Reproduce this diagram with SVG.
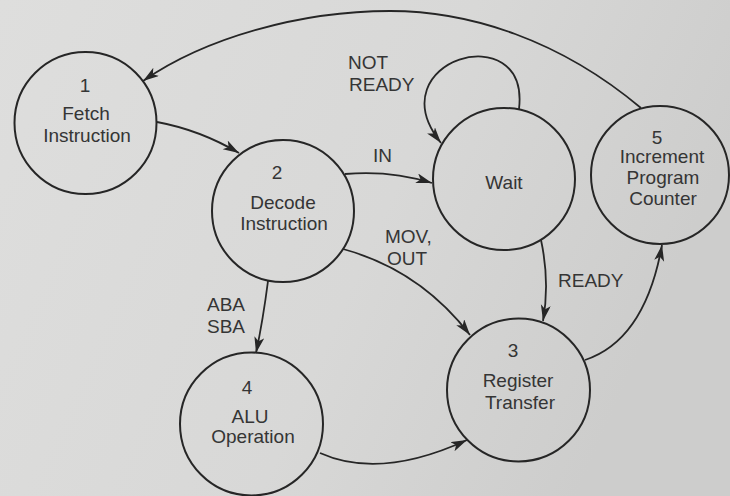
<svg xmlns="http://www.w3.org/2000/svg" width="730" height="496" viewBox="0 0 730 496">
  <defs>
    <linearGradient id="paper" x1="0" y1="0" x2="1" y2="0.3">
      <stop offset="0" stop-color="#dededd"/>
      <stop offset="0.6" stop-color="#d8d8d7"/>
      <stop offset="1" stop-color="#cdcdcc"/>
    </linearGradient>
    <marker id="arrow" markerUnits="userSpaceOnUse" markerWidth="18" markerHeight="12" refX="16" refY="5" orient="auto">
      <path d="M0,0 L16,5 L0,10 L4,5 Z" fill="#262626"/>
    </marker>
    <style>
      .state { fill: none; stroke: #262626; stroke-width: 2; }
      .edge { fill: none; stroke: #262626; stroke-width: 1.8; marker-end: url(#arrow); }
      text { font-family: "Liberation Sans", Arial, sans-serif; font-size: 19px; fill: #353535; }
      .c { text-anchor: middle; }
    </style>
  </defs>

  <rect x="0" y="0" width="730" height="496" fill="url(#paper)"/>

  <!-- transitions -->
  <g id="connectors">
    <!-- 1 -> 2 -->
    <path class="edge" d="M157,122 Q200,130 239,153"/>
    <!-- 2 -> Wait (IN) -->
    <path class="edge" d="M345,174 Q390,170 432,183"/>
    <!-- Wait self-loop (NOT READY) -->
    <path class="edge" d="M519,109 C530,15 375,60 441,143"/>
    <!-- Wait -> 3 (READY) -->
    <path class="edge" d="M541,240 Q550,282 543,321"/>
    <!-- 2 -> 3 (MOV, OUT) -->
    <path class="edge" d="M343,249 Q420,270 470,335"/>
    <!-- 2 -> 4 (ABA, SBA) -->
    <path class="edge" d="M268,281 Q263,320 256,353"/>
    <!-- 4 -> 3 -->
    <path class="edge" d="M320,453 Q380,480 467,440"/>
    <!-- 3 -> 5 -->
    <path class="edge" d="M585,360 Q645,340 662,245"/>
    <!-- 5 -> 1 -->
    <path class="edge" d="M641,108 C560,40 470,11 390,11 C300,11 205,38 143,81"/>
  </g>

  <!-- transition labels -->
  <g id="labels">
    <text x="348" y="69">NOT</text>
    <text x="349" y="91">READY</text>
    <text x="373" y="162">IN</text>
    <text x="385" y="243">MOV,</text>
    <text x="387" y="265">OUT</text>
    <text x="207" y="311">ABA</text>
    <text x="207" y="333">SBA</text>
    <text x="558" y="287">READY</text>
  </g>

  <g id="state-1">
    <circle class="state" cx="85.5" cy="123" r="71"/>
    <text class="c" x="85" y="92">1</text>
    <text class="c" x="86" y="120">Fetch</text>
    <text class="c" x="87" y="142">Instruction</text>
  </g>

  <g id="state-2">
    <circle class="state" cx="283" cy="211" r="71"/>
    <text class="c" x="277" y="179">2</text>
    <text class="c" x="283" y="209">Decode</text>
    <text class="c" x="284" y="230">Instruction</text>
  </g>

  <g id="state-wait">
    <circle class="state" cx="504" cy="179" r="71"/>
    <text class="c" x="504" y="189">Wait</text>
  </g>

  <g id="state-5">
    <circle class="state" cx="660" cy="175" r="69"/>
    <text class="c" x="657" y="144">5</text>
    <text class="c" x="662" y="163">Increment</text>
    <text class="c" x="663" y="184">Program</text>
    <text class="c" x="663" y="205">Counter</text>
  </g>

  <g id="state-4">
    <circle class="state" cx="251.5" cy="424" r="71.5"/>
    <text class="c" x="247" y="394">4</text>
    <text class="c" x="250" y="423">ALU</text>
    <text class="c" x="253" y="443">Operation</text>
  </g>

  <g id="state-3">
    <circle class="state" cx="518.5" cy="390" r="71.5"/>
    <text class="c" x="513" y="357">3</text>
    <text class="c" x="518" y="387">Register</text>
    <text class="c" x="520" y="409">Transfer</text>
  </g>
</svg>
